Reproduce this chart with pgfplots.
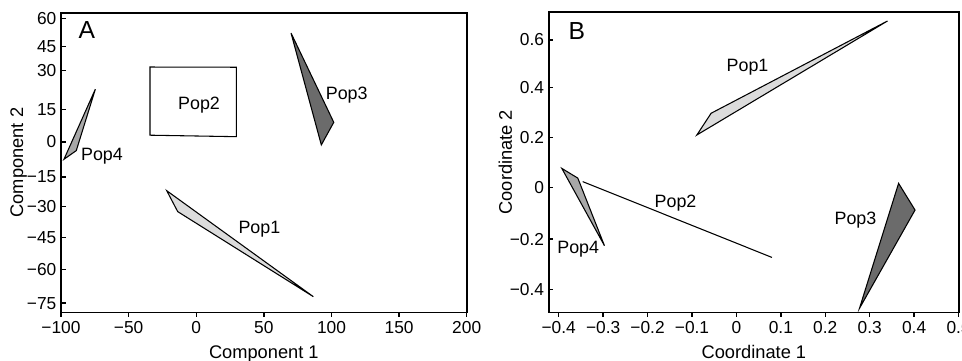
\documentclass[border=0pt]{standalone}
\usepackage{pgfplots}
\pgfplotsset{compat=1.18}
\usepackage{fontspec}
\setmainfont{Liberation Sans}
\definecolor{pone}{HTML}{DCDCDC}
\definecolor{pfour}{HTML}{A8A8A8}
\definecolor{pthree}{HTML}{6B6B6B}
\begin{document}
\begin{tikzpicture}
\pgfplotsset{
  every axis/.append style={
    scale only axis,
    anchor=south west,
    axis line style={line width=1.2pt},
    tick style={line width=1.1pt, black},
    major tick length=3.5pt,
    xtick align=outside, ytick align=inside,
    tick pos=left,
    tick label style={font=\fontsize{13}{15}\selectfont},
    label style={font=\fontsize{13.7}{16}\selectfont},
    cycle list={{black}},
    every axis plot/.append style={no marks, draw=black, line width=0.8pt},
  },
}
% Panel A
\begin{axis}[at={(45.75pt,35.775pt)}, width=304.275pt, height=224.475pt,
  xmin=-100, xmax=200, ymin=-79.3, ymax=62.5,
  xtick={-100,-50,0,50,100,150,200},
  xticklabels={−100,−50,0,50,100,150,200},
  ytick={60,46.5,35.3,16.7,1.4,-15.2,-29.2,-43.9,-58.9,-75},
  yticklabels={60,45,30,15,0,−15,−30,−45,−60,−75},
  xlabel={Component 1}, ylabel={Component 2},
  xlabel style={at={(axis description cs:0.5,-0.1527)}, anchor=base},
  ylabel style={at={(axis description cs:-0.0935,0.5)}, anchor=base},
]
\addplot[black, fill=pone] coordinates {(-21.8,-21.7) (-13.7,-31.6) (86.6,-71.9)} -- cycle;
\addplot[black, fill=none] coordinates {(-34.2,36.9) (29.7,36.8) (29.7,3.9) (-34.2,4.6)} -- cycle;
\addplot[black, fill=pthree] coordinates {(70.1,53.0) (101.7,10.7) (92.5,0.0)} -- cycle;
\addplot[black, fill=pfour] coordinates {(-74.6,26.4) (-88.7,-2.7) (-97.8,-6.8)} -- cycle;
\node[anchor=base, font=\fontsize{13.4}{15}\selectfont] at (axis cs:2.1,16.9) {Pop2};
\node[anchor=base, font=\fontsize{13.4}{15}\selectfont] at (axis cs:-69.7,-7.6) {Pop4};
\node[anchor=base, font=\fontsize{13.4}{15}\selectfont] at (axis cs:111.3,21.6) {Pop3};
\node[anchor=base, font=\fontsize{13.4}{15}\selectfont] at (axis cs:46.7,-41.8) {Pop1};
\node[anchor=base, font=\fontsize{18.5}{20}\selectfont] at (axis cs:-80.8,50.5) {A};
\end{axis}
% Panel B
\begin{axis}[at={(411.525pt,35.775pt)}, width=307.725pt, height=225.225pt,
  xmin=-0.4225, xmax=0.501, ymin=-0.492, ymax=0.712,
  xtick={-0.4,-0.3,-0.2,-0.1,0,0.1,0.2,0.3,0.4,0.5},
  xticklabels={−0.4,−0.3,−0.2,−0.1,0,0.1,0.2,0.3,0.4,0.5},
  ytick={0.6,0.41,0.208,0.009,-0.199,-0.4},
  yticklabels={0.6,0.4,0.2,0,−0.2,−0.4},
  xlabel={Coordinate 1}, ylabel={Coordinate 2},
  xlabel style={at={(axis description cs:0.5,-0.1522)}, anchor=base},
  ylabel style={at={(axis description cs:-0.0897,0.5)}, anchor=base},
]
\addplot[black, fill=pone] coordinates {(-0.089,0.219) (-0.057,0.306) (0.340,0.676)} -- cycle;
\addplot[black] coordinates {(-0.346,0.032) (0.080,-0.272)};
\addplot[black, fill=pthree] coordinates {(0.365,0.025) (0.402,-0.082) (0.277,-0.476)} -- cycle;
\addplot[black, fill=pfour] coordinates {(-0.393,0.085) (-0.357,0.046) (-0.297,-0.225)} -- cycle;
\node[anchor=base, font=\fontsize{13.4}{15}\selectfont] at (axis cs:0.025,0.473) {Pop1};
\node[anchor=base, font=\fontsize{13.4}{15}\selectfont] at (axis cs:-0.137,-0.071) {Pop2};
\node[anchor=base, font=\fontsize{13.4}{15}\selectfont] at (axis cs:-0.356,-0.258) {Pop4};
\node[anchor=base, font=\fontsize{13.4}{15}\selectfont] at (axis cs:0.268,-0.138) {Pop3};
\node[anchor=base, font=\fontsize{18.5}{20}\selectfont] at (axis cs:-0.359,0.603) {B};
\end{axis}
\pgfresetboundingbox
\useasboundingbox (0,0) rectangle (721.5pt,270pt);
\end{tikzpicture}
\end{document}
